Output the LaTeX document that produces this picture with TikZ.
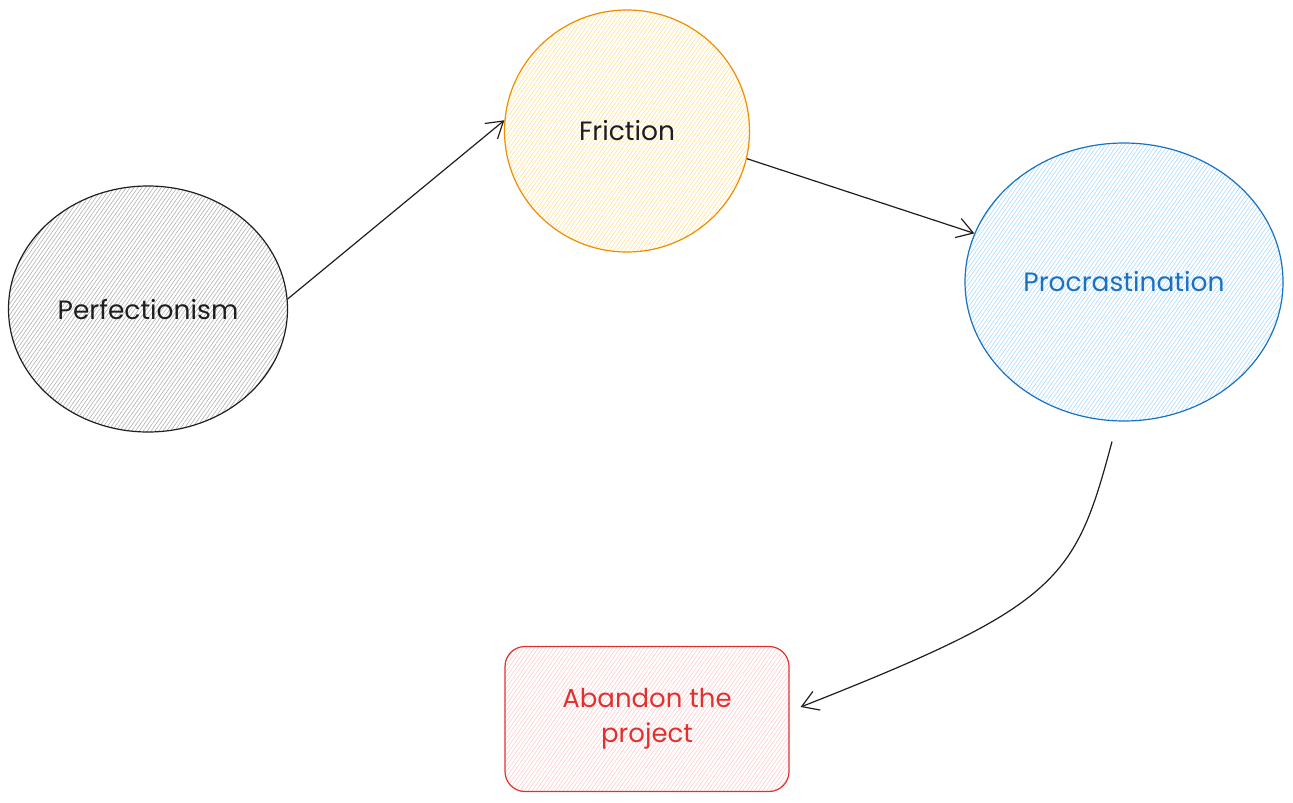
\documentclass[tikz,border=0pt]{standalone}
\usepackage{fontspec}
\setmainfont{Poppins}
\usetikzlibrary{shapes.geometric,arrows.meta,patterns.meta,calc}
\definecolor{InkBlack}{HTML}{1E1E1E}
\definecolor{HatchGray}{HTML}{ABABAB}
\definecolor{StrokeOrange}{HTML}{F08C00}
\definecolor{HatchYellow}{HTML}{FFE08A}
\definecolor{StrokeBlue}{HTML}{1971C2}
\definecolor{HatchBlue}{HTML}{A5D8FF}
\definecolor{StrokeRed}{HTML}{E03131}
\definecolor{HatchRed}{HTML}{FFC9C9}

\begin{document}
\begin{tikzpicture}[x=1pt, y=-1pt,
  hatch/.style={pattern={Lines[angle=55,distance=3.2pt,line width=0.55pt]}, pattern color=#1},
  blob/.style={ellipse, line width=1.2pt, inner sep=0pt, font=\fontsize{26.5}{30}\selectfont},
  link/.style={InkBlack, line width=1.2pt, -{Straight Barb[length=16pt,width=20pt,line width=1.2pt]}}]
  \useasboundingbox (0,0) rectangle (1293,803);

  % the four stages
  \node[blob, draw=InkBlack, hatch=HatchGray, text=InkBlack,
        minimum width=279pt, minimum height=246pt] (perf) at (148,309) {Perfectionism};
  \node[blob, draw=StrokeOrange, hatch=HatchYellow, text=InkBlack,
        minimum width=245pt, minimum height=242pt] (fric) at (627,131) {Friction};
  \node[blob, draw=StrokeBlue, hatch=HatchBlue, text=StrokeBlue,
        minimum width=318pt, minimum height=278pt] (proc) at (1124,282) {Procrastination};
  \node[rectangle, rounded corners=20pt, line width=1.2pt, draw=StrokeRed, hatch=HatchRed,
        text=StrokeRed, align=center, font=\fontsize{26}{35}\selectfont,
        minimum width=284pt, minimum height=145pt] (aband) at (647,719) {Abandon the\\project};

  % arrows between them
  \draw[link] (perf.4) -- (fric.175);
  \draw[link] (fric.-13) -- (proc.162);
  \draw[link] ($(proc.south)+(-12,20)$) .. controls (1075,580) and (1060,605) .. ($(aband.east)+(11,-12)$);
\end{tikzpicture}
\end{document}
